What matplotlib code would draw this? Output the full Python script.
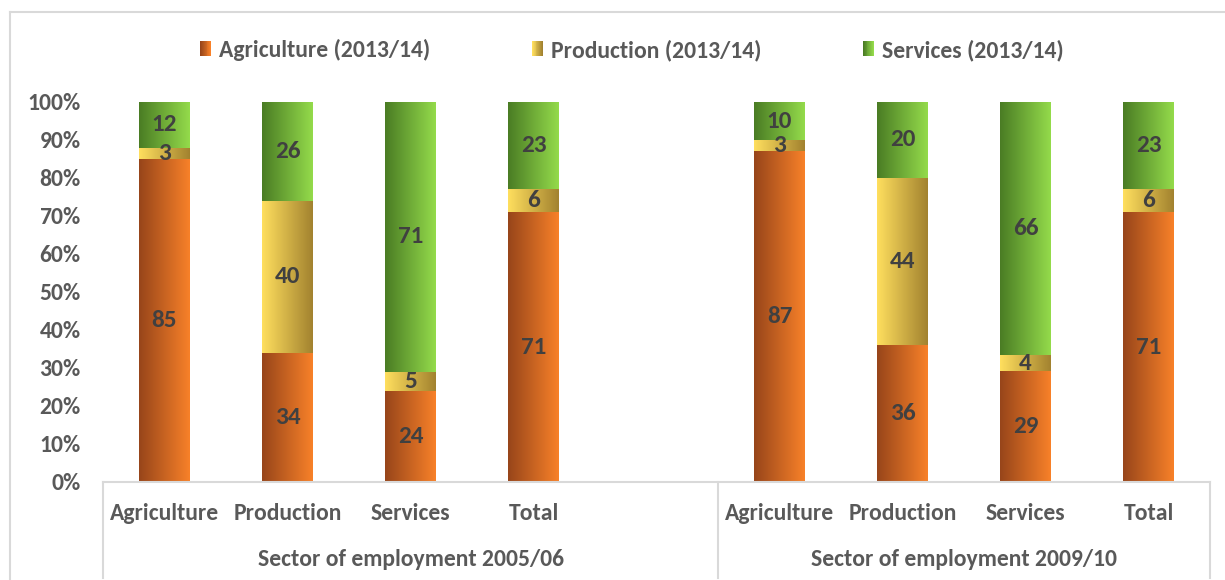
import numpy as np
import matplotlib
matplotlib.use("Agg")
import matplotlib.pyplot as plt
from matplotlib.colors import LinearSegmentedColormap
from matplotlib.patches import Rectangle
from matplotlib.legend_handler import HandlerBase
from matplotlib.lines import Line2D
import matplotlib.transforms as mtransforms

plt.rcParams['font.family'] = ['Carlito', 'DejaVu Sans']
plt.rcParams['font.weight'] = 'bold'

# ---- data -------------------------------------------------------------
groups = ["Sector of employment 2005/06", "Sector of employment 2009/10"]
sectors = ["Agriculture", "Production", "Services", "Total"]
series = ["Agriculture (2013/14)", "Production (2013/14)", "Services (2013/14)"]

agri_2005 = [85, 34, 24, 71]
prod_2005 = [3, 40, 5, 6]
serv_2005 = [12, 26, 71, 23]

agri_2009 = [87, 36, 29, 71]
prod_2009 = [3, 44, 4, 6]
serv_2009 = [10, 20, 66, 23]

yticks = [0, 10, 20, 30, 40, 50, 60, 70, 80, 90, 100]

# left -> right gradient stops per series
grad_colors = [("#97451A", "#F88129"),
               ("#FFDF5E", "#A2822F"),
               ("#4A7C24", "#94DB4B")]

# ---- layout -----------------------------------------------------------
slot_positions = [0, 1, 2, 3, 5, 6, 7, 8]   # empty slot between groups
bar_width = 0.41
label_color = "#404040"
tick_color = "#595959"
line_color = "#D9D9D9"
fs_axis = 17
fs_value = 18

values = [agri_2005 + agri_2009, prod_2005 + prod_2009, serv_2005 + serv_2009]
values = np.array(values, dtype=float)
totals = values.sum(axis=0)
shares = values / totals * 100.0

fig = plt.figure(figsize=(12.25, 5.8), dpi=100)
W, H = 1225, 580
ax_l, ax_r, ax_t, ax_b = 103, 1210, 102, 482
ax = fig.add_axes([ax_l / W, 1 - ax_b / H, (ax_r - ax_l) / W, (ax_b - ax_t) / H])

grad = np.linspace(0, 1, 256).reshape(1, -1)
bottom = np.zeros(len(slot_positions))
for s in range(len(series)):
    cmap = LinearSegmentedColormap.from_list(series[s], grad_colors[s])
    bars = ax.bar(slot_positions, shares[s], bottom=bottom, width=bar_width,
                  color="none", linewidth=0, zorder=2)
    for i, patch in enumerate(bars.patches):
        x0, y0 = patch.get_x(), patch.get_y()
        w, h = patch.get_width(), patch.get_height()
        ax.imshow(grad, cmap=cmap, extent=[x0, x0 + w, y0, y0 + h],
                  aspect="auto", interpolation="bilinear", zorder=2)
        ax.text(x0 + w / 2, y0 + h / 2, f"{int(values[s][i])}",
                ha="center", va="center", fontsize=fs_value, fontweight="bold",
                color=label_color, zorder=4)
    bottom = bottom + shares[s]

ax.set_xlim(-0.5, 8.5)
ax.set_ylim(0, 100)
ax.set_yticks(yticks)
ax.set_yticklabels([f"{t}%" for t in yticks], fontsize=fs_axis, fontweight="bold",
                   color=tick_color)
ax.tick_params(axis="y", length=0, pad=16)
ax.set_xticks([])
for sp in ax.spines.values():
    sp.set_visible(False)

# category axis with grouping lines
ax.plot([-0.5, 8.5], [0, 0], color=line_color, lw=1.5, clip_on=False, zorder=3)
trans = mtransforms.blended_transform_factory(ax.transData, ax.transAxes)
depth = -(578 - ax_b) / (ax_b - ax_t)
for xs in [-0.5, 4.5, 8.5]:
    ax.plot([xs, xs], [0, depth], color=line_color, lw=1.5, transform=trans,
            clip_on=False)

cat_y = -(520 - ax_b) / (ax_b - ax_t)
grp_y = -(566 - ax_b) / (ax_b - ax_t)
for i, xp in enumerate(slot_positions):
    ax.text(xp, cat_y, sectors[i % 4], transform=trans, ha="center",
            va="baseline", fontsize=fs_axis, fontweight="bold", color=tick_color)
for g, xc in zip(groups, [2.0, 6.5]):
    ax.text(xc, grp_y, g, transform=trans, ha="center", va="baseline",
            fontsize=fs_axis, fontweight="bold", color=tick_color)

# outer chart border
fig.add_artist(Line2D([10 / W, 10 / W], [0, 1 - 12 / H], color=line_color,
                      lw=1.5, transform=fig.transFigure))
fig.add_artist(Line2D([10 / W, 1], [1 - 12 / H, 1 - 12 / H], color=line_color,
                      lw=1.5, transform=fig.transFigure))


class GradientHandler(HandlerBase):
    def __init__(self, c0, c1, n=12):
        super().__init__()
        self.cmap = LinearSegmentedColormap.from_list("h", [c0, c1])
        self.n = n

    def create_artists(self, legend, orig_handle, xdescent, ydescent,
                       width, height, fontsize, trans):
        arts = []
        for k in range(self.n):
            r = Rectangle((-xdescent + width * k / self.n, -ydescent),
                          width / self.n * 1.05, height,
                          facecolor=self.cmap(k / (self.n - 1)),
                          edgecolor="none", transform=trans)
            arts.append(r)
        return arts


handles = [Rectangle((0, 0), 1, 1) for _ in series]
hmap = {h: GradientHandler(*grad_colors[i]) for i, h in enumerate(handles)}
leg = fig.legend(handles, series, handler_map=hmap, loc="center",
                 bbox_to_anchor=(632 / W, 1 - 50 / H), ncol=3, frameon=False,
                 fontsize=fs_axis, handlelength=0.45, handleheight=0.6,
                 handletextpad=0.35, columnspacing=4.3)
for t in leg.get_texts():
    t.set_color(tick_color)
    t.set_fontweight("bold")

fig.savefig("out.png", dpi=100, facecolor="white")
